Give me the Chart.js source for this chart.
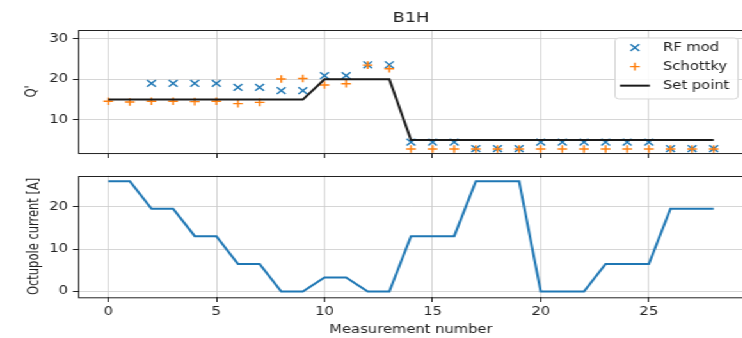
<!DOCTYPE html>
<html>
<head>
<meta charset="utf-8">
<script src="https://cdn.jsdelivr.net/npm/chart.js@4/dist/chart.umd.min.js"></script>
<style>
html,body{margin:0;padding:0;overflow:hidden;background:#fff;width:742px;height:338px}
#wrap{position:absolute;left:0;top:0;width:590px;height:338px;transform:scaleX(1.28);transform-origin:0 0}
#topBox{position:absolute;left:0;top:0;width:590px;height:165px}
#botBox{position:absolute;left:0;top:165px;width:590px;height:173px}
</style>
</head>
<body>
<div id="wrap">
  <div id="topBox"><canvas id="c1"></canvas></div>
  <div id="botBox"><canvas id="c2"></canvas></div>
</div>
<script>
// ---- data ----
const measurement = [0,1,2,3,4,5,6,7,8,9,10,11,12,13,14,15,16,17,18,19,20,21,22,23,24,25,26,27,28];
const rfMod    = [null,null,19,19,19,19,18,18,17.2,17.2,20.9,20.9,23.6,23.6,4.5,4.5,4.5,2.9,2.9,2.9,4.5,4.5,4.5,4.5,4.5,4.5,2.9,2.9,2.9];
const schottky = [14.6,14.4,14.6,14.6,14.5,14.6,14.0,14.3,20.1,20.2,18.6,18.9,23.5,22.6,2.8,2.8,2.8,2.8,2.8,2.8,2.8,2.8,2.8,2.8,2.8,2.8,2.8,2.8,2.8];
const setPoint = [15,15,15,15,15,15,15,15,15,15,20,20,20,20,5,5,5,5,5,5,5,5,5,5,5,5,5,5,5];
const octupoleCurrent = [26.1,26.1,19.6,19.6,13.1,13.1,6.5,6.5,0,0,3.3,3.3,0,0,13.1,13.1,13.1,26.1,26.1,26.1,0,0,0,6.5,6.5,6.5,19.6,19.6,19.6];
const xTicks = [0,5,10,15,20,25];
const qTicks = [10,20,30];
const currentTicks = [0,10,20];
const seriesNames = ['RF mod','Schottky','Set point','Octupole current'];

// ---- helpers ----
const pts = ys => measurement.map((x,i)=>({x:x, y:ys[i]})).filter(p=>p.y!==null);
const FONT = 11.5;
const TXT = '#222';
const GRID = '#cccccc';
const AXIS = '#222';
Chart.defaults.font.family = "'DejaVu Sans', sans-serif";
Chart.defaults.color = TXT;

function xScale(showLabels, h){
  return {
    type:'linear', min:-1.4, max:29.4,
    afterBuildTicks: s => { s.ticks = xTicks.map(v=>({value:v})); },
    afterFit: s => { s.height = h; },
    grid:{color:GRID, lineWidth:0.8, tickColor:AXIS, tickLength:5, tickWidth:1},
    border:{display:false},
    ticks:{display:showLabels, color:TXT, font:{size:FONT}, padding:2.8, maxRotation:0, autoSkip:false},
    title: showLabels ? {display:true, text:'Measurement number', color:TXT, font:{size:FONT}, padding:{top:0,bottom:1.1}} : {display:false}
  };
}
function yScale(min,max,ticks,title,pad){
  return {
    type:'linear', min:min, max:max,
    afterBuildTicks: s => { s.ticks = ticks.map(v=>({value:v})); },
    afterFit: s => { s.width = 60.9; },
    grid:{color:GRID, lineWidth:0.8, tickColor:AXIS, tickLength:4, tickWidth:1},
    border:{display:false},
    ticks:{color:TXT, font:{size:FONT}, padding:3.8},
    title:{display:true, text:title, color:TXT, font:{size:FONT}, padding:{top:pad,bottom:0}}
  };
}
const framePlugin = {
  id:'frame',
  afterDatasetsDraw(chart){
    const {ctx, chartArea:a} = chart;
    ctx.save();
    ctx.strokeStyle = AXIS; ctx.lineWidth = 1;
    ctx.strokeRect(Math.round(a.left)+0.5, Math.round(a.top)+0.5, a.right-a.left, a.bottom-a.top);
    ctx.restore();
  }
};
const legendPlugin = {
  id:'mplLegend',
  afterDraw(chart){
    const {ctx, chartArea:a} = chart;
    const L = a.right - 100.75, T = a.top + 8, W = 96.1, H = 61;
    ctx.save();
    ctx.beginPath();
    ctx.roundRect(L, T, W, H, 3);
    ctx.fillStyle = 'rgba(255,255,255,0.85)'; ctx.fill();
    ctx.strokeStyle = '#d6d6d6'; ctx.lineWidth = 1; ctx.stroke();
    chart.data.datasets.forEach((ds,i)=>{
      const y = T + 9.7 + i*19;
      const mx = a.right - 85.25;
      if (ds.showLine){
        ctx.strokeStyle = ds.borderColor; ctx.lineWidth = ds.borderWidth;
        ctx.beginPath(); ctx.moveTo(mx-11.7, y); ctx.lineTo(mx+11.7, y); ctx.stroke();
      } else {
        ctx.strokeStyle = ds.pointBorderColor; ctx.fillStyle = ds.pointBorderColor;
        ctx.lineWidth = ds.pointBorderWidth;
        Chart.helpers.drawPoint(ctx, {pointStyle: ds.pointStyle, radius: ds.pointRadius, borderWidth: ds.pointBorderWidth, rotation:0}, mx, y);
      }
      ctx.fillStyle = TXT; ctx.font = FONT + "px 'DejaVu Sans'";
      ctx.textAlign = 'left'; ctx.textBaseline = 'middle';
      ctx.fillText(ds.label, a.right - 63.25, y);
    });
    ctx.restore();
  }
};

// ---- top chart ----
new Chart(document.getElementById('c1'), {
  type:'scatter',
  data:{datasets:[
    {label:seriesNames[0], data:pts(rfMod), showLine:false, pointStyle:'crossRot', pointRadius:4.8, pointBorderWidth:1.4, pointBorderColor:'#1f77b4', pointBackgroundColor:'#1f77b4', order:2},
    {label:seriesNames[1], data:pts(schottky), showLine:false, pointStyle:'cross', pointRadius:3.8, pointBorderWidth:1.4, pointBorderColor:'#ff7f0e', pointBackgroundColor:'#ff7f0e', order:1},
    {label:seriesNames[2], data:pts(setPoint), showLine:true, borderColor:'#1a1a1a', borderWidth:2, pointRadius:0, tension:0, order:0}
  ]},
  options:{
    responsive:true, maintainAspectRatio:false, animation:false, events:[],
    layout:{padding:{left:0, right:8.75, top:0, bottom:0}},
    plugins:{
      legend:{display:false}, tooltip:{enabled:false},
      title:{display:true, text:'B1H', fullSize:false, color:TXT, font:{size:13.8, weight:'normal'}, padding:{top:10, bottom:3.4}}
    },
    scales:{ x:xScale(false,12), y:yScale(1.8,32.2,qTicks,"Q'",18.1) }
  },
  plugins:[framePlugin, legendPlugin]
});

// ---- bottom chart ----
new Chart(document.getElementById('c2'), {
  type:'scatter',
  data:{datasets:[
    {label:seriesNames[3], data:pts(octupoleCurrent), showLine:true, borderColor:'#1f77b4', borderWidth:2, pointRadius:0, tension:0}
  ]},
  options:{
    responsive:true, maintainAspectRatio:false, animation:false, events:[],
    layout:{padding:{left:0, right:8.75, top:9, bottom:0}},
    plugins:{ legend:{display:false}, tooltip:{enabled:false} },
    scales:{ x:xScale(true,41), y:yScale(-1.3,27.4,currentTicks,'Octupole current [A]',20.4) }
  },
  plugins:[framePlugin]
});
</script>
</body>
</html>
